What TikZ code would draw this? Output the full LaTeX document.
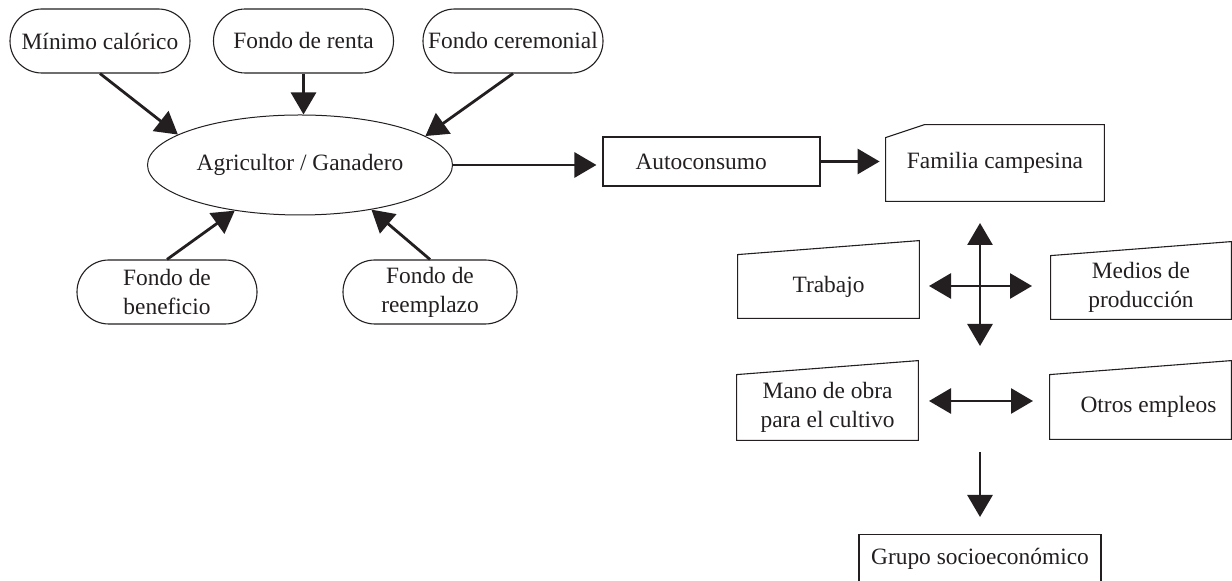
\documentclass[tikz,border=0pt]{standalone}
\usepackage{fontspec}
\setmainfont{Liberation Serif}
\usetikzlibrary{shapes.geometric,arrows.meta,calc}
\definecolor{ink}{HTML}{231F20}
\tikzset{
  txt/.style={font=\fontsize{11.7}{14.5}\selectfont, text=ink},
  stad/.style={txt, draw=ink, line width=0.55pt, rectangle, rounded corners=15.9pt,
    minimum width=90pt, minimum height=32pt, inner sep=0pt, align=center},
  ell/.style={txt, draw=ink, line width=0.5pt, ellipse, minimum width=152.5pt,
    minimum height=50pt, inner sep=0pt},
  rbox/.style={txt, draw=ink, line width=0.55pt, rectangle, inner sep=0pt},
  plain/.style={txt, rectangle, inner sep=0pt, align=center},
  outline/.style={draw=ink, line width=0.55pt},
  arr/.style={draw=ink, line width=1.4pt, -{Triangle[length=11pt,width=12.5pt]}},
  darr/.style={draw=ink, line width=1.4pt, {Triangle[length=11pt,width=12.5pt]}-{Triangle[length=11pt,width=12.5pt]}}
}
\begin{document}
\begin{tikzpicture}[x=0.5pt,y=-0.5pt]
\useasboundingbox (0,0) rectangle (1232,581);
% top stadium nodes
\node[stad] (mc) at (100,41) {Mínimo calórico};
\node[stad] (fr) at (303.5,41) {Fondo de renta};
\node[stad] (fc) at (513,41) {Fondo ceremonial};
% central ellipse
\node[ell] (ag) at (300,165) {Agricultor / Ganadero};
% bottom stadium nodes
\node[stad] (fb) at (167,292) {Fondo de\\beneficio};
\node[stad, minimum width=87pt] (fre) at (430,292) {Fondo de\\reemplazo};
% arrows into ellipse
\draw[arr] (mc.south) -- (ag.166.3);
\draw[arr] (fr.south) -- (fr.south |- ag.north);
\draw[arr] (fc.south) -- (ag.13.7);
\draw[arr] (fb.north) -- (ag.215.1);
\draw[arr] (fre.north) -- (ag.328.9);
% autoconsumo
\node[rbox, minimum width=108.5pt, minimum height=24.5pt] (ac) at (711.5,161.5) {\makebox[76pt][l]{Autoconsumo}};
\draw[arr, shorten >=3pt] (ag.east) -- (ag.east -| ac.west);
% familia campesina
\node[plain, minimum width=109pt, minimum height=38pt] (fam) at (995,163) {Familia campesina};
\draw[outline] (fam.south west) -- ($(fam.north west)+(0,13)$) -- ($(fam.north west)+(39,0)$) -- (fam.north east) -- (fam.south east) -- cycle;
\draw[arr, shorten >=3pt] (ac.east) -- (ac.east -| fam.west);
% trapezoid nodes
\node[plain, minimum width=90.5pt, minimum height=31.5pt] (tr) at (828.5,286.5) {Trabajo};
\node[plain, minimum width=90pt, minimum height=31.5pt] (me) at (1141,287.5) {Medios de\\producción};
\node[plain, minimum width=90.5pt, minimum height=32.5pt] (ma) at (827.5,407.5) {Mano de obra\\para el cultivo};
\node[plain, minimum width=90.5pt, minimum height=32pt] (ot) at (1140.5,407) {\hspace*{8pt}Otros empleos};
\foreach \n in {tr,me,ma,ot}{
  \draw[outline] (\n.south west) -- (\n.north west) -- ($(\n.north east)+(0,-14)$) -- (\n.south east) -- cycle;
}
% cross arrows
\coordinate (vt) at (980,223);
\coordinate (vb) at (980,346);
\coordinate (hl) at (929,286);
\coordinate (hr) at (1032,286);
\draw[darr] (vt) -- (vb);
\draw[darr] (hl) -- (hr);
% mano de obra <-> otros empleos
\coordinate (ml) at (929,401);
\coordinate (mr) at (1033,401);
\draw[darr] (ml) -- (mr);
% grupo socioeconomico
\node[rbox, anchor=north, minimum width=121pt, inner ysep=7pt, text height=8pt, text depth=22pt] (gr) at (980,534) {Grupo socioeconómico};
\coordinate (dt) at (980,452);
\draw[arr, shorten >=8.5pt] (dt) -- (gr.north);
\end{tikzpicture}
\end{document}
